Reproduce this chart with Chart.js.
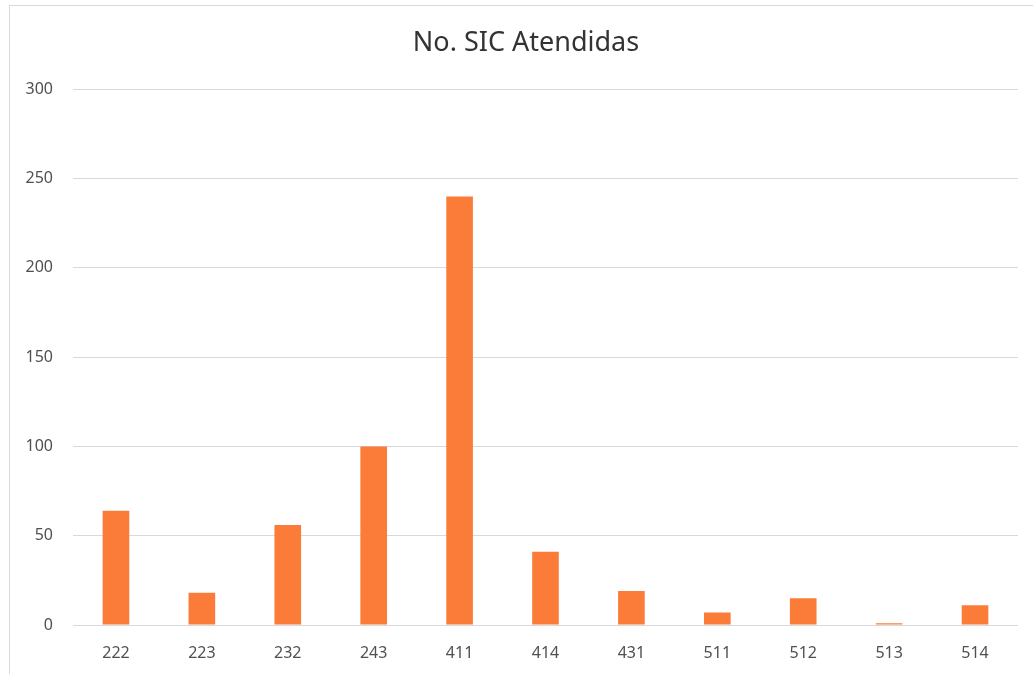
<!DOCTYPE html>
<html>
<head>
<meta charset="utf-8">
<script src="https://cdn.jsdelivr.net/npm/chart.js@4/dist/chart.umd.min.js"></script>
<style>
  html, body { margin: 0; padding: 0; background: #fff; }
  #wrap { position: relative; width: 1033px; height: 674px; overflow: hidden; }
  #frame { position: absolute; left: 9px; top: 5px; width: 1100px; height: 700px; border: 1px solid #d9d9d9; }
  canvas { position: absolute; left: 0; top: 0; }
</style>
</head>
<body>
<div id="wrap">
  <div id="frame"></div>
  <canvas id="barChart" width="1033" height="674"></canvas>
</div>
<script>
// SIC codes and attended counts
const categories = ['222', '223', '232', '243', '411', '414', '431', '511', '512', '513', '514'];
const atendidas = [64, 18, 56, 100, 240, 41, 19, 7, 15, 1, 11];
const yTicks = [0, 50, 100, 150, 200, 250, 300];

const font = 'Noto Sans';

const ctx = document.getElementById('barChart').getContext('2d');
new Chart(ctx, {
  type: 'bar',
  data: {
    labels: categories,
    datasets: [
      {
        label: 'No. SIC Atendidas',
        data: atendidas,
        backgroundColor: '#fb7c39',
        categoryPercentage: 1,
        barPercentage: 0.31,
      },
    ],
  },
  options: {
    responsive: false,
    animation: false,
    layout: { padding: { left: 19, right: 0, top: 0, bottom: 0 } },
    plugins: {
      legend: { display: false },
      tooltip: { enabled: false },
      title: {
        display: true,
        text: 'No. SIC Atendidas',
        color: '#333333',
        font: { family: font, size: 27, weight: 'normal' },
        padding: { top: 27, bottom: 30 },
      },
    },
    scales: {
      x: {
        afterFit: (scale) => { scale.height = 49; },
        grid: { display: false, drawTicks: false },
        border: { display: false },
        ticks: { color: '#505050', font: { family: font, size: 16 }, padding: 19 },
      },
      y: {
        min: 0,
        max: 300,
        afterBuildTicks: (scale) => { scale.ticks = yTicks.map((v) => ({ value: v })); },
        afterFit: (scale) => { scale.width = 54; },
        grid: { color: '#d9d9d9', lineWidth: 1, drawTicks: false },
        border: { display: false },
        ticks: { color: '#505050', font: { family: font, size: 16 }, padding: 20 },
      },
      // empty right gutter so the plot stops short of the edge
      gutter: {
        type: 'linear',
        position: 'right',
        afterFit: (scale) => { scale.width = 15; },
        grid: { display: false, drawTicks: false },
        border: { display: false },
        ticks: { display: false },
      },
    },
  },
});
</script>
</body>
</html>
